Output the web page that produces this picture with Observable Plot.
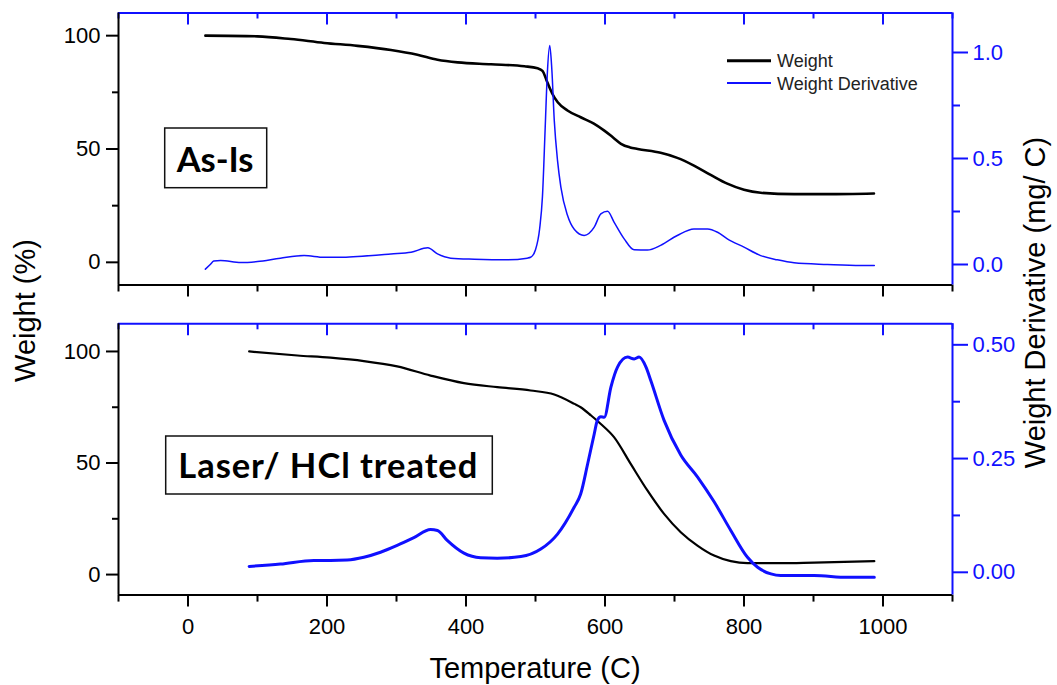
<!DOCTYPE html>
<html>
<head>
<meta charset="utf-8">
<script src="https://cdn.jsdelivr.net/npm/d3@7"></script>
<script src="https://cdn.jsdelivr.net/npm/@observablehq/plot@0.6"></script>
<style>
  html, body { margin: 0; padding: 0; background: #fff; }
  #chart { position: relative; width: 1057px; height: 685px; overflow: hidden; background: #fff; }
  #chart > svg { position: absolute; left: 0; }
</style>
</head>
<body>
<div id="chart"></div>
<script>
// ---------------- DATA ----------------
const xMajor = [0, 200, 400, 600, 800, 1000];
const xMinor = [-100, 100, 300, 500, 700, 900, 1100];

// As-Is panel
const asIsWeightT = [25, 100, 148, 196, 244, 292, 330, 359, 388, 436, 484, 503, 510, 517, 524, 532, 546, 565, 584, 599, 612, 623, 636, 647, 680, 704, 728, 752, 776, 800, 824, 872, 920, 987];
const asIsWeight  = [100, 99.7, 98.5, 96.8, 95.5, 93.7, 91.6, 89.4, 88.2, 87.4, 86.5, 85.6, 84.5, 79.4, 74.5, 70.6, 67.0, 64.0, 61.2, 58.1, 55.0, 52.3, 50.7, 50.0, 48.3, 46.1, 42.7, 38.6, 34.7, 32.0, 30.7, 30.1, 30.1, 30.4];
const asIsDerivT = [25, 32, 37, 47, 76, 100, 133, 167, 196, 220, 244, 292, 321, 345, 359, 378, 412, 460, 488, 493, 500, 506, 510, 514, 517, 520.5, 523.5, 527, 531.7, 536.5, 546, 556, 570, 584.5, 594, 603.7, 613, 627.6, 642, 661, 680, 704, 728, 747.7, 762, 776, 800, 824, 848, 872, 920, 968, 987.5];
const asIsDeriv  = [-0.022, 0.0, 0.016, 0.019, 0.009, 0.014, 0.030, 0.042, 0.034, 0.034, 0.038, 0.050, 0.058, 0.079, 0.050, 0.030, 0.025, 0.022, 0.030, 0.034, 0.07, 0.17, 0.32, 0.65, 0.90, 1.033, 0.92, 0.68, 0.49, 0.365, 0.232, 0.165, 0.137, 0.176, 0.239, 0.251, 0.200, 0.121, 0.069, 0.068, 0.090, 0.137, 0.168, 0.168, 0.152, 0.121, 0.082, 0.042, 0.022, 0.008, 0.0, -0.005, -0.005];

// Laser / HCl treated panel
const laserWeightT = [88, 157.5, 205, 253, 301, 349, 397, 445, 493, 527, 556, 565, 580, 594, 613, 637, 661, 685, 709, 733, 757, 781, 805, 853, 901, 987.5];
const laserWeight  = [100, 98.2, 97.2, 95.7, 93.3, 89.2, 85.8, 84.0, 82.5, 80.7, 76.5, 75.0, 71.3, 67.5, 61.6, 49.6, 37.7, 27.2, 19.0, 13.0, 8.5, 6.0, 5.1, 5.1, 5.4, 6.0];
const laserDerivT = [88, 133, 181, 205, 229, 253, 277, 301, 325, 349, 359, 373, 397, 421, 445, 479, 507.6, 531.7, 555.6, 565, 575, 584.5, 589, 594, 599, 608.5, 618, 632.5, 642, 649, 659, 666, 685, 709, 733, 757, 781, 805, 819.6, 838.8, 853, 901, 949, 987.5];
const laserDeriv  = [0.013, 0.018, 0.026, 0.026, 0.027, 0.033, 0.044, 0.059, 0.076, 0.094, 0.092, 0.070, 0.042, 0.032, 0.031, 0.0345, 0.051, 0.084, 0.143, 0.172, 0.238, 0.304, 0.334, 0.342, 0.341, 0.407, 0.451, 0.473, 0.469, 0.473, 0.451, 0.421, 0.334, 0.258, 0.210, 0.155, 0.092, 0.033, 0.011, -0.0035, -0.007, -0.007, -0.011, -0.011];

// axis ticks
const asIsYMajor = [0, 50, 100];
const asIsYMinor = [25, 75];
const asIsDMajor = [0, 0.5, 1.0];
const asIsDMinor = [0.25, 0.75];
const laserYMajor = [0, 50, 100];
const laserYMinor = [25, 75];
const laserDMajor = [0, 0.25, 0.5];
const laserDMinor = [0.125, 0.375];

const panelLabels = ["As-Is", "Laser/ HCl treated"];
const seriesNames = ["Weight", "Weight Derivative"];
const axisTitles = {x: "Temperature (C)", yLeft: "Weight (%)", yRight: "Weight Derivative (mg/ C)"};

// ---------------- DRAW ----------------
const BLUE = "#1010ff";
const BLACK = "#000";
const FONT = "'Liberation Sans', Arial, sans-serif";
const xDomain = [-100, 1100];
const W = 1057, ML = 118, MR = 105;
const chart = document.getElementById("chart");

function pairs(T, V) { return T.map((t, i) => ({t, v: V[i]})); }

function panel(cfg) {
  const plotH = cfg.height - cfg.marginTop - cfg.marginBottom;
  const common = {
    width: W, height: cfg.height, marginLeft: ML, marginRight: MR,
    marginTop: cfg.marginTop, marginBottom: cfg.marginBottom,
    style: {background: "transparent", fontFamily: FONT, fontSize: "22px", overflow: "visible", color: BLACK}
  };
  const left = Plot.plot({
    ...common,
    x: {domain: xDomain, axis: null},
    y: {domain: cfg.yDomain, axis: null},
    marks: [
      Plot.axisY(cfg.yMajor, {anchor: "left", tickSize: 12, tickPadding: 6, strokeWidth: 2, fontSize: 22, tickFormat: d => String(d), label: null}),
      Plot.axisY(cfg.yMinor, {anchor: "left", tickSize: 6, strokeWidth: 2, tickFormat: () => "", label: null}),
      Plot.axisX(xMajor, {anchor: "bottom", tickSize: 12, tickPadding: 11, strokeWidth: 2, fontSize: 22, tickFormat: cfg.xLabels ? (d => String(d)) : (() => ""), label: null}),
      Plot.axisX(xMinor, {anchor: "bottom", tickSize: 7, strokeWidth: 2, tickFormat: () => "", label: null}),
      Plot.tickX(xMajor, {x: d => d, stroke: BLUE, strokeWidth: 2, insetBottom: plotH - 12}),
      Plot.tickX(xMinor, {x: d => d, stroke: BLUE, strokeWidth: 2, insetBottom: plotH - 6}),
      Plot.ruleY([cfg.yDomain[1]], {stroke: BLUE, strokeWidth: 2}),
      Plot.ruleY([cfg.yDomain[0]], {stroke: BLACK, strokeWidth: 2}),
      Plot.ruleX([xDomain[0]], {stroke: BLACK, strokeWidth: 2}),
      Plot.line(pairs(cfg.wT, cfg.w), {x: "t", y: "v", stroke: BLACK, strokeWidth: cfg.blackW, curve: "monotone-x"})
    ]
  });
  const right = Plot.plot({
    ...common,
    x: {domain: xDomain, axis: null},
    y: {domain: cfg.dDomain, axis: null},
    marks: [
      Plot.axisY(cfg.dMajor, {anchor: "right", tickSize: 15, tickPadding: 5, strokeWidth: 2, fontSize: 22, color: BLUE, tickFormat: d3.format(cfg.dFormat), label: null}),
      Plot.axisY(cfg.dMinor, {anchor: "right", tickSize: 7, strokeWidth: 2, color: BLUE, tickFormat: () => "", label: null}),
      Plot.ruleX([xDomain[1]], {stroke: BLUE, strokeWidth: 2}),
      Plot.line(pairs(cfg.dT, cfg.d), {x: "t", y: "v", stroke: BLUE, strokeWidth: cfg.blueW, curve: "monotone-x"})
    ]
  });
  left.style.top = cfg.top + "px";
  right.style.top = cfg.top + "px";
  chart.appendChild(left);
  chart.appendChild(right);
}

panel({
  top: 0, height: 300, marginTop: 12.5, marginBottom: 15.5,
  yDomain: [-10, 110], dDomain: [-0.0967, 1.1863],
  yMajor: asIsYMajor, yMinor: asIsYMinor, dMajor: asIsDMajor, dMinor: asIsDMinor, dFormat: ".1f",
  wT: asIsWeightT, w: asIsWeight, dT: asIsDerivT, d: asIsDeriv,
  xLabels: false, blackW: 2.6, blueW: 1.5
});
panel({
  top: 300, height: 385, marginTop: 23.3, marginBottom: 90.4,
  yDomain: [-9.2, 112.4], dDomain: [-0.0501, 0.5462],
  yMajor: laserYMajor, yMinor: laserYMinor, dMajor: laserDMajor, dMinor: laserDMinor, dFormat: ".2f",
  wT: laserWeightT, w: laserWeight, dT: laserDerivT, d: laserDeriv,
  xLabels: true, blackW: 2.2, blueW: 3
});

// ---------------- ANNOTATIONS (titles, legend, boxes) ----------------
const ov = d3.select(chart).append("svg")
  .attr("width", W).attr("height", 685)
  .style("top", "0px").style("pointer-events", "none")
  .style("font-family", FONT);

ov.append("text").attr("x", 535).attr("y", 678).attr("text-anchor", "middle")
  .attr("font-size", 29).attr("fill", BLACK).text(axisTitles.x);
ov.append("text").attr("transform", "translate(35,310.5) rotate(-90)").attr("text-anchor", "middle")
  .attr("font-size", 29).attr("fill", BLACK).text(axisTitles.yLeft);
ov.append("text").attr("transform", "translate(1045,302.5) rotate(-90)").attr("text-anchor", "middle")
  .attr("font-size", 29).attr("fill", BLACK).text(axisTitles.yRight);

// legend
ov.append("line").attr("x1", 727).attr("x2", 771).attr("y1", 60.7).attr("y2", 60.7).attr("stroke", BLACK).attr("stroke-width", 3);
ov.append("line").attr("x1", 727).attr("x2", 771).attr("y1", 83).attr("y2", 83).attr("stroke", BLUE).attr("stroke-width", 1.8);
ov.append("text").attr("x", 777).attr("y", 67.3).attr("font-size", 18).attr("fill", "#222").text(seriesNames[0]);
ov.append("text").attr("x", 777).attr("y", 90).attr("font-size", 18).attr("fill", "#222").text(seriesNames[1]);

// panel label boxes
const boxes = [
  {x: 164.7, y: 128, w: 102, h: 59.7, tx: 176.7, ty: 171.7, len: 76.7, label: panelLabels[0]},
  {x: 165.7, y: 436, w: 326.6, h: 58, tx: 178.3, ty: 477.7, len: 299, label: panelLabels[1]}
];
for (const b of boxes) {
  ov.append("rect").attr("x", b.x).attr("y", b.y).attr("width", b.w).attr("height", b.h)
    .attr("fill", "#fff").attr("stroke", "#111").attr("stroke-width", 1.5);
  ov.append("text").attr("x", b.tx).attr("y", b.ty).attr("font-size", 34.5)
    .attr("font-family", "Lato, 'Open Sans', sans-serif").attr("font-weight", 700)
    .attr("textLength", b.len).attr("lengthAdjust", "spacing")
    .attr("fill", "#000").text(b.label);
}
</script>
</body>
</html>
